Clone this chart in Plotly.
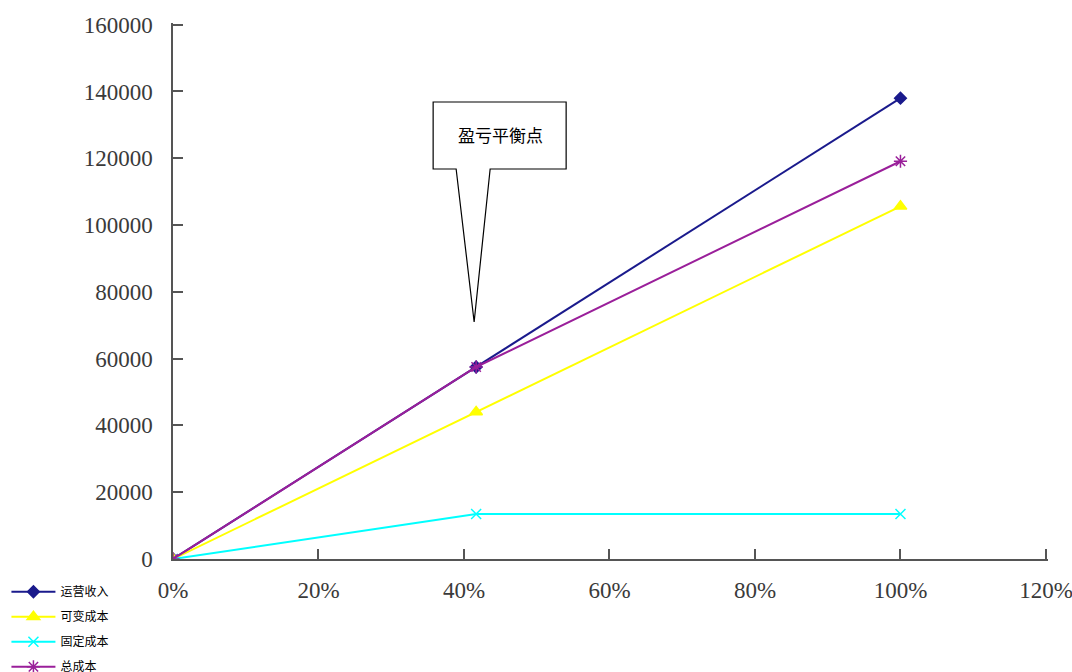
import plotly.graph_objects as go

# Output ratio (x axis) and the four break-even series
ratio = [0.0, 0.4167, 1.0]
revenue = [0, 57500, 138000]        # 运营收入
variable_cost = [0, 44000, 105600]  # 可变成本
fixed_cost = [0, 13500, 13500]      # 固定成本
total_cost = [0, 57500, 119100]     # 总成本

x_ticks = [0, 0.2, 0.4, 0.6, 0.8, 1.0, 1.2]
x_tick_text = ["0%", "20%", "40%", "60%", "80%", "100%", "120%"]
y_ticks = [0, 20000, 40000, 60000, 80000, 100000, 120000, 140000, 160000]
y_tick_text = ["0", "20000", "40000", "60000", "80000", "100000",
               "120000", "140000", "160000"]

callout_text = "盈亏平衡点"
break_even_x = ratio[1]
break_even_y = revenue[1]

series = [
    ("运营收入", revenue, "#1a1a8c", "diamond", 9),
    ("可变成本", variable_cost, "#ffff00", "triangle-up", 11),
    ("固定成本", fixed_cost, "#00ffff", "x-thin-open", 10),
    ("总成本", total_cost, "#9a1f9a", "asterisk-open", 11),
]

fig = go.Figure()
for i, (name, values, color, symbol, size) in enumerate(series):
    fig.add_trace(go.Scatter(
        x=ratio, y=values, name=name, mode="lines+markers",
        legendgroup=f"g{i}",
        line=dict(color=color, width=2),
        marker=dict(symbol=symbol, size=size, color=color,
                    line=dict(color=color, width=1.5)),
    ))

# Callout box with a pointer toward the break-even point (pixel offsets)
callout_path = ("M -43 198 L -20 198 L -2 45 L 14 198 L 90 198 "
                "L 90 265 L -43 265 Z")
fig.add_shape(
    type="path", path=callout_path,
    xref="x", yref="y", xsizemode="pixel", ysizemode="pixel",
    xanchor=break_even_x, yanchor=break_even_y,
    line=dict(color="black", width=1.2), fillcolor="white", layer="above",
)
fig.add_annotation(
    x=break_even_x, y=break_even_y, xref="x", yref="y",
    text=callout_text, showarrow=False, xshift=24, yshift=232,
    font=dict(family="Noto Sans CJK SC", size=17, color="black"),
)

# Ranges run a hair past the last tick so the end tick marks stay drawn
axis_font = dict(family="Liberation Serif", size=23, color="#3a3a3a")
fig.update_xaxes(
    range=[0, 1.2028], tickvals=x_ticks, ticktext=x_tick_text,
    showgrid=False, zeroline=False, showline=True, linecolor="#555555",
    linewidth=1.5, ticks="inside", ticklen=10, tickcolor="#555555",
    tickwidth=1.5, tickfont=axis_font, ticklabelstandoff=10,
    ticklabeloverflow="allow", automargin=False,
)
fig.update_yaxes(
    range=[0, 160500], tickvals=y_ticks, ticktext=y_tick_text,
    showgrid=False, zeroline=False, showline=True, linecolor="#555555",
    linewidth=1.5, ticks="inside", ticklen=10, tickcolor="#555555",
    tickwidth=1.5, tickfont=axis_font, ticklabelstandoff=14,
    automargin=False,
)

fig.update_layout(
    width=1072, height=672,
    margin=dict(l=173, r=24, t=23, b=113),
    plot_bgcolor="white", paper_bgcolor="white",
    showlegend=True,
    legend=dict(
        xref="container", yref="container", x=0.006, y=0.141,
        xanchor="left", yanchor="top",
        traceorder="grouped", tracegroupgap=6, itemwidth=44,
        font=dict(family="Noto Sans CJK SC", size=12, color="black"),
        bgcolor="rgba(0,0,0,0)",
    ),
)

fig.write_html("out.html")
